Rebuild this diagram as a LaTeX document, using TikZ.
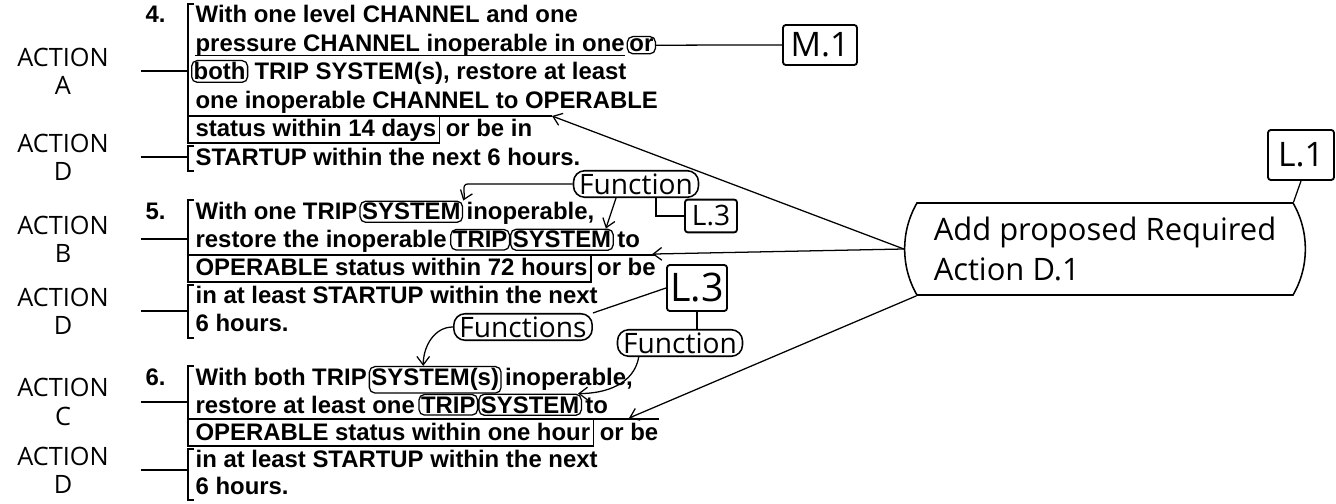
\documentclass[tikz,border=0pt]{standalone}
\usepackage{fontspec}
\usepackage{tikz}
\usetikzlibrary{arrows.meta,positioning,calc,shapes.misc}
\newfontfamily\typefont{Liberation Sans}
\newfontfamily\handfont{Open Sans}

\begin{document}
\begin{tikzpicture}[x=0.025cm,y=-0.025cm,line width=0.9pt,
  >={Straight Barb[length=6pt,width=9pt]},
  typed/.style={inner sep=0pt,anchor=base west,font=\typefont\bfseries\fontsize{17}{20}\selectfont},
  circled/.style={typed,draw,rounded corners=4pt,inner sep=1.5pt},
  action/.style={font=\handfont\fontsize{18}{20}\selectfont,align=center,minimum width=3.85cm,inner sep=0pt},
  tag/.style={draw,rounded corners=2pt,line width=1.3pt,font=\handfont\fontsize{24}{24}\selectfont,inner sep=2pt},
  note/.style={draw,rounded corners=8pt,line width=1.1pt,font=\handfont\fontsize{20}{20}\selectfont,inner xsep=4pt,inner ysep=2pt},
  bubble/.style={draw,line width=1.1pt,rounded rectangle,rounded rectangle arc length=60,minimum width=10.25cm,minimum height=2.3cm,align=left,font=\handfont\fontsize{22}{28}\selectfont}]
\useasboundingbox (0,0) rectangle (1336,504);

% item 4
\node[typed] (num4) at (145,23) {4.};
\node[typed] (n4a) at (195,23) {With one level CHANNEL and one};
\node[typed] (n4b) at (195,51.5) {pressure CHANNEL inoperable in one};
\node[circled,base right=1pt of n4b] (or4) {or};
\node[circled] (both4) at (191,80) {both};
\node[typed,base right=4pt of both4] (n4c) {TRIP SYSTEM(s), restore at least};
\node[typed] (n4d) at (195,108.5) {one inoperable CHANNEL to OPERABLE};
\node[typed] (n4e) at (195,137) {status within 14 days};
\node[typed,base right=6pt of n4e] (n4f) {or be in};
\node[typed] (n4g) at (195,165.5) {STARTUP within the next 6 hours.};
\draw ($(n4b.base west)+(0,4)$) -- ($(n4b.base east)+(0,4)$);
\coordinate (t4) at (552,116);
\draw (194,4) -- (188,4) -- (188,143) -- ($(n4e.base east)+(3,6)$) -- ($(n4e.base east)+(3,-21)$);
\draw (188,116) -- (t4);
\draw (194,146) -- (188,146) -- (188,171) -- (194,171);

% item 5
\node[typed] (num5) at (145,220) {5.};
\node[typed] (n5a) at (195,220) {With one TRIP};
\node[circled,base right=1pt of n5a] (sys5) {SYSTEM};
\node[typed,base right=2pt of sys5] (n5b) {inoperable,};
\node[typed] (n5c) at (195,248) {restore the inoperable};
\node[circled,base right=2pt of n5c] (ts5a) {TRIP};
\node[circled,base right=0pt of ts5a] (ts5b) {SYSTEM};
\node[typed,base right=2pt of ts5b] (n5d) {to};
\node[typed] (n5e) at (195,276) {OPERABLE status within 72 hours};
\node[typed,base right=6pt of n5e] (n5f) {or be};
\node[typed] (n5g) at (195,304) {in at least STARTUP within the next};
\node[typed] (n5h) at (195,332) {6 hours.};
\coordinate (t5) at ($(n5f.north east)+(-4,-4)$);
\draw (194,200) -- (188,200) -- (188,282) -- ($(n5e.base east)+(3,6)$) -- ($(n5e.base east)+(3,-21)$);
\draw (188,255) -- ($(n5f.base east)+(0,-21)$);
\draw (194,285) -- (188,285) -- (188,338) -- (194,338);

% item 6
\node[typed] (num6) at (145,386) {6.};
\node[typed] (n6a) at (195,386) {With both TRIP};
\node[circled,base right=1pt of n6a] (sys6) {SYSTEM(s)};
\node[typed,base right=2pt of sys6] (n6b) {inoperable,};
\node[typed] (n6c) at (195,413) {restore at least one};
\node[circled,base right=2pt of n6c] (ts6a) {TRIP};
\node[circled,base right=0pt of ts6a] (ts6b) {SYSTEM};
\node[typed,base right=2pt of ts6b] (n6d) {to};
\node[typed] (n6e) at (195,440) {OPERABLE status within one hour};
\node[typed,base right=6pt of n6e] (n6f) {or be};
\node[typed] (n6g) at (195,467) {in at least STARTUP within the next};
\node[typed] (n6h) at (195,494) {6 hours.};
\coordinate (t6) at ($(n6f.north)+(0,-4)$);
\draw (194,366) -- (188,366) -- (188,446) -- ($(n6e.base east)+(3,6)$) -- ($(n6e.base east)+(3,-21)$);
\draw (188,419) -- ($(n6f.base east)+(0,-21)$);
\draw (194,449) -- (188,449) -- (188,500) -- (194,500);

% action labels
\node[action] (actA) at (63,71) {ACTION\\A};
\node[action] (actD4) at (63,157) {ACTION\\D};
\node[action] (actB) at (63,239) {ACTION\\B};
\node[action] (actD5) at (63,311) {ACTION\\D};
\node[action] (actC) at (63,402) {ACTION\\C};
\node[action] (actD6) at (63,470) {ACTION\\D};
\coordinate (bA) at (188,71);
\coordinate (bD4) at (188,157);
\coordinate (bB) at (188,239);
\coordinate (bD5) at (188,311);
\coordinate (bC) at (188,402);
\coordinate (bD6) at (188,470);
\draw (actA.east) -- (bA);
\draw (actD4.east) -- (bD4);
\draw (actB.east) -- (bB);
\draw (actD5.east) -- (bD5);
\draw (actC.east) -- (bC);
\draw (actD6.east) -- (bD6);

% markup
\node[tag,minimum width=1.85cm,minimum height=1cm] (m1) at (820,45) {M.1};
\node[tag,minimum width=1.65cm,minimum height=1.25cm] (l1) at (1301,155) {L.1};
\node[tag,font=\handfont\fontsize{20}{20}\selectfont,minimum width=1.3cm,minimum height=0.82cm] (l3a) at (711,216) {L.3};
\node[tag,font=\handfont\fontsize{28}{28}\selectfont,minimum width=1.5cm,minimum height=1.15cm] (l3b) at (697,288) {L.3};
\node[note] (fn5) at (636,184) {Function};
\node[note] (fns6) at (523,327) {Functions};
\node[note] (fn6) at (680,343) {Function};
\node[bubble] (cl) at (1105,249) {Add proposed Required\\Action D.1};

\draw (or4.east) -- (m1.west);
\draw (l1.south) -- (cl.north east);
\draw[->] (cl.west) -- (t4);
\draw[->] (cl.west) -- (t5);
\draw[->] (cl.south west) -- (t6);
\draw[->] (fn5.west) -- ++(-105,0) to[out=180,in=70] (sys5.north east);
\draw[->] ($(fn5.south)+(-20,0)$) -- ($(ts5b.north east)+(-8,0)$);
\draw ($(fn5.south)+(20,0)$) |- (l3a.west);
\draw (l3b.west) -- (fns6.north east);
\draw (l3b.south) -- (l3b.south |- fn6.north);
\draw[->] (fns6.west) to[out=180,in=90] ($(sys6.north)+(-12,0)$);
\draw[->] ($(fn6.south west)+(22,0)$) to[out=-100,in=0] ($(ts6b.north east)+(-4,0)$);
\end{tikzpicture}
\end{document}
